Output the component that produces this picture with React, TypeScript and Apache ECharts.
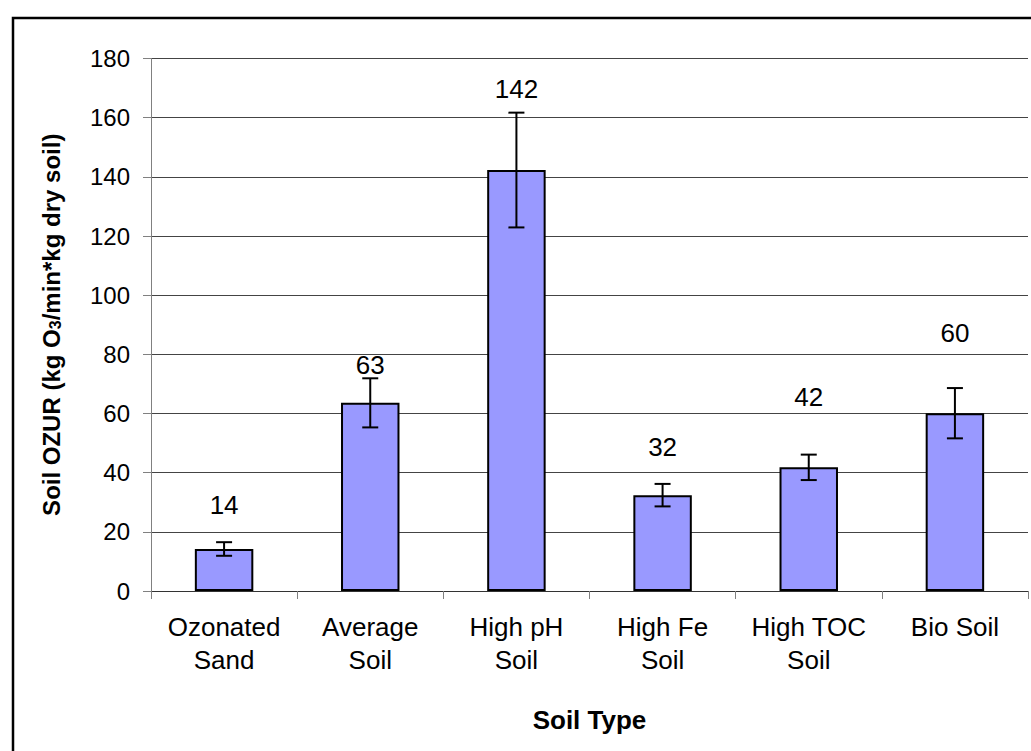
import React, { useEffect, useRef } from "react";
import * as echarts from "echarts";

const categories = ["Ozonated\nSand", "Average\nSoil", "High pH\nSoil", "High Fe\nSoil", "High TOC\nSoil", "Bio Soil"];
const ozur = [14.2, 63.6, 142.3, 32.4, 41.8, 60.1];
const errors = [2.3, 8.3, 19.4, 3.8, 4.3, 8.5];
const valueLabels = ["14", "63", "142", "32", "42", "60"];
const labelHeights = [29, 76.4, 169.7, 48.7, 65.6, 87.2];
const yTicks = { min: 0, max: 180, interval: 20 };

const FONT = "'Liberation Sans', Arial, sans-serif";

export default function App() {
  const ref = useRef<HTMLDivElement>(null);
  useEffect(() => {
    if (!ref.current) return;
    const chart = echarts.init(ref.current, null, { renderer: "svg" });
    chart.setOption({
      animation: false,
      backgroundColor: "#ffffff",
      textStyle: { fontFamily: FONT, color: "#000" },
      grid: { left: 151, top: 58.5, right: 3, bottom: 160, containLabel: false },
      graphic: [
        {
          type: "rect",
          left: 10.5,
          top: 15.5,
          shape: { x: 0, y: 0, width: 1100, height: 900 },
          style: { fill: "none", stroke: "#000", lineWidth: 2.5 },
          silent: true,
        },
      ],
      xAxis: {
        type: "category",
        data: categories,
        name: "Soil Type",
        nameLocation: "middle",
        nameGap: 116,
        nameTextStyle: { fontFamily: FONT, fontSize: 26, fontWeight: "bold", color: "#000" },
        axisLine: { show: true, lineStyle: { color: "#333", width: 1 } },
        axisTick: { show: true, length: 8, lineStyle: { color: "#808080", width: 1 } },
        axisLabel: { interval: 0, fontFamily: FONT, fontSize: 26, lineHeight: 33, color: "#000", margin: 19 },
        splitLine: { show: false },
      },
      yAxis: {
        type: "value",
        min: yTicks.min,
        max: yTicks.max,
        interval: yTicks.interval,
        name: "{t|Soil OZUR (kg O}{s|3}{t|/min*kg dry soil)}",
        nameLocation: "middle",
        nameGap: 88,
        nameTextStyle: {
          fontFamily: FONT,
          fontSize: 24,
          fontWeight: "bold",
          color: "#000",
          rich: {
            t: { fontFamily: FONT, fontSize: 24, fontWeight: "bold", color: "#000" },
            s: { fontFamily: FONT, fontSize: 16, fontWeight: "bold", color: "#000", padding: [8, 0, 0, 0] },
          },
        },
        axisLine: { show: true, lineStyle: { color: "#808080", width: 1 } },
        axisTick: { show: true, length: 8, lineStyle: { color: "#808080", width: 1 } },
        axisLabel: { fontFamily: FONT, fontSize: 24, color: "#000", margin: 21 },
        splitLine: { show: true, lineStyle: { color: "#444", width: 1 } },
      },
      series: [
        {
          type: "bar",
          data: ozur,
          barWidth: "40%",
          itemStyle: { color: "#9999FF", borderColor: "#000", borderWidth: 2 },
          z: 2,
        },
        {
          type: "custom",
          z: 3,
          data: categories.map((_, i) => [i, ozur[i], errors[i]]),
          renderItem: (params: any, api: any) => {
            const x = api.value(0);
            const v = api.value(1);
            const e = api.value(2);
            const hi = api.coord([x, v + e]);
            const lo = api.coord([x, v - e]);
            const cap = 8;
            const style = { stroke: "#000", lineWidth: 2 };
            return {
              type: "group",
              children: [
                { type: "line", shape: { x1: hi[0], y1: hi[1], x2: lo[0], y2: lo[1] }, style },
                { type: "line", shape: { x1: hi[0] - cap, y1: hi[1], x2: hi[0] + cap, y2: hi[1] }, style },
                { type: "line", shape: { x1: lo[0] - cap, y1: lo[1], x2: lo[0] + cap, y2: lo[1] }, style },
              ],
            };
          },
        },
        {
          type: "scatter",
          data: labelHeights,
          symbolSize: 0,
          z: 4,
          itemStyle: { opacity: 1 },
          label: {
            show: true,
            position: "inside",
            formatter: (p: any) => valueLabels[p.dataIndex],
            fontFamily: FONT,
            fontSize: 26,
            color: "#000",
            opacity: 1,
            textBorderWidth: 0,
          },
        },
      ],
    });
    return () => chart.dispose();
  }, []);
  return <div ref={ref} style={{ position: "fixed", left: 0, top: 0, width: 1031, height: 751 }} />;
}
